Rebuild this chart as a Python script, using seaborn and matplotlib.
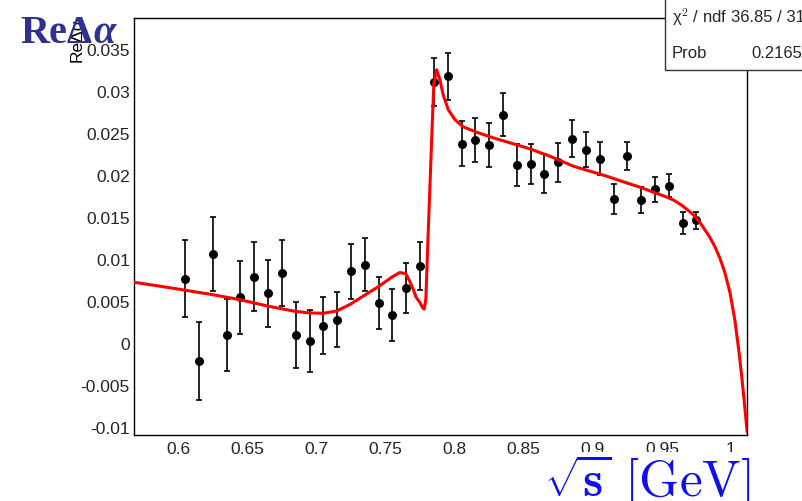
import numpy as np
import pandas as pd
import matplotlib
matplotlib.use("Agg")
import matplotlib.pyplot as plt
from matplotlib.patches import Rectangle
from matplotlib.ticker import MultipleLocator, FuncFormatter
import seaborn as sns

# ---- data -------------------------------------------------------------
sqrt_s = [0.605, 0.615, 0.625, 0.635, 0.645, 0.655, 0.665, 0.675, 0.685, 0.695,
          0.705, 0.715, 0.725, 0.735, 0.745, 0.755, 0.765, 0.775, 0.785, 0.795,
          0.805, 0.815, 0.825, 0.835, 0.845, 0.855, 0.865, 0.875, 0.885, 0.895,
          0.905, 0.915, 0.925, 0.935, 0.945, 0.955, 0.965, 0.975]
re_dalpha = [0.00768, -0.00214, 0.01065, 0.00095, 0.00543, 0.00788, 0.00594, 0.00835,
             0.00095, 0.00024, 0.00206, 0.00277, 0.00855, 0.00934, 0.00479, 0.00333,
             0.00653, 0.00918, 0.03108, 0.03175, 0.02372, 0.02419, 0.02360, 0.02720,
             0.02122, 0.02130, 0.02015, 0.02153, 0.02431, 0.02300, 0.02197, 0.01718,
             0.02225, 0.01702, 0.01829, 0.01873, 0.01425, 0.01461]
err = [0.0046, 0.0046, 0.0044, 0.0043, 0.0043, 0.0041, 0.0040, 0.0039, 0.0039, 0.0037,
       0.0034, 0.0033, 0.0033, 0.0032, 0.0031, 0.0031, 0.0030, 0.0029, 0.0028, 0.0028,
       0.0027, 0.0026, 0.0026, 0.0026, 0.0025, 0.0024, 0.0023, 0.0023, 0.0022, 0.0021,
       0.0020, 0.0018, 0.0017, 0.0015, 0.0015, 0.0014, 0.0013, 0.0010]

fit_x = [0.5679, 0.5940, 0.6043, 0.6157, 0.6246, 0.6446, 0.6647, 0.6847, 0.6948, 0.7049,
         0.7148, 0.7247, 0.7342, 0.7450, 0.7548, 0.7604, 0.7648, 0.7674, 0.7700, 0.7722,
         0.7749, 0.7767, 0.7780, 0.7792, 0.7809, 0.7834, 0.7850, 0.7870, 0.7894, 0.7917,
         0.7954, 0.8002, 0.8062, 0.8159, 0.8279, 0.8400, 0.8545, 0.8690, 0.8858, 0.8979,
         0.9100, 0.9220, 0.9341, 0.9462, 0.9522, 0.9582, 0.9645, 0.9703, 0.9739, 0.9775,
         0.9811, 0.9847, 0.9884, 0.9920, 0.9956, 0.9992, 1.0028, 1.0057, 1.0079, 1.0101,
         1.0117]
fit_y = [0.00724, 0.00658, 0.00631, 0.00600, 0.00577, 0.00516, 0.00440, 0.00377, 0.00359, 0.00354,
         0.00382, 0.00463, 0.00562, 0.00673, 0.00787, 0.00840, 0.00823, 0.00740, 0.00641, 0.00543,
         0.00483, 0.00424, 0.00404, 0.00523, 0.01315, 0.02423, 0.03096, 0.03254, 0.03135, 0.02957,
         0.02779, 0.02660, 0.02574, 0.02510, 0.02443, 0.02384, 0.02312, 0.02224, 0.02106, 0.02046,
         0.01987, 0.01920, 0.01856, 0.01781, 0.01746, 0.01704, 0.01639, 0.01562, 0.01508, 0.01437,
         0.01348, 0.01259, 0.01146, 0.01010, 0.00837, 0.00606, 0.00273, -0.00095, -0.00416, -0.00784,
         -0.01061]

x_ticks = [0.6, 0.65, 0.7, 0.75, 0.8, 0.85, 0.9, 0.95, 1.0]
y_ticks = [-0.01, -0.005, 0.0, 0.005, 0.01, 0.015, 0.02, 0.025, 0.03, 0.035]

pts = pd.DataFrame({"x": sqrt_s, "y": re_dalpha, "e": err})
fit = pd.DataFrame({"x": fit_x, "y": fit_y})

# ---- style -------------------------------------------------------------
sns.set_style("white")
plt.rcParams["font.family"] = ["Liberation Sans", "DejaVu Sans"]
plt.rcParams["axes.unicode_minus"] = False
plt.rcParams["mathtext.fontset"] = "cm"

W, H = 803, 502
fig = plt.figure(figsize=(W / 100, H / 100), dpi=100)
fig.patch.set_facecolor("white")
ax = fig.add_axes([134 / W, 1 - 436 / H, (747.3 - 134) / W, (436 - 19) / H])

# error bars + points
ax.errorbar(pts["x"], pts["y"], yerr=pts["e"], fmt="none", ecolor="black",
            elinewidth=1.2, capsize=2.5, capthick=1.2, zorder=2)
sns.scatterplot(data=pts, x="x", y="y", ax=ax, color="black", s=42,
                edgecolor="black", linewidth=0, zorder=3, legend=False)
# fit curve
sns.lineplot(data=fit, x="x", y="y", ax=ax, color="red", linewidth=2.2,
             estimator=None, sort=False, zorder=4, legend=False)

ax.set_xlim(0.568, 1.0118)
ax.set_ylim(-0.01095, 0.0387)
ax.set_xlabel("")
ax.set_ylabel("")

ax.set_xticks(x_ticks)
ax.set_yticks(y_ticks)
ax.xaxis.set_minor_locator(MultipleLocator(0.01))
ax.yaxis.set_minor_locator(MultipleLocator(0.001))
fmt = FuncFormatter(lambda v, p: ("%g" % round(v, 4)))
ax.xaxis.set_major_formatter(fmt)
ax.yaxis.set_major_formatter(fmt)
ax.tick_params(axis="x", which="major", direction="in", length=9, width=1,
               labelsize=12.5, pad=4, top=False, color="black")
ax.tick_params(axis="x", which="minor", direction="in", length=4.5, width=1, top=False)
ax.tick_params(axis="y", which="major", direction="in", length=13, width=1,
               labelsize=12.5, pad=3, right=False, color="black")
ax.tick_params(axis="y", which="minor", direction="in", length=6.5, width=1, right=False)
for sp in ax.spines.values():
    sp.set_color("black")
    sp.set_linewidth(1)

# small rotated axis title (ROOT style)
fig.text(77 / W, 1 - 18 / H, "ReΔα", rotation=90, ha="center", va="top",
         fontsize=12.5, color="black")

# big overlaid label top-left
serif = ["Liberation Serif", "DejaVu Serif"]
t1 = fig.text(20 / W, 1 - 43 / H, "ReΔ", family=serif, fontweight="bold",
              fontsize=29, color="#2e3192", ha="left", va="baseline")
fig.canvas.draw()
bb = t1.get_window_extent(renderer=fig.canvas.get_renderer())
fig.text(bb.x1 / W + 1 / W, 1 - 43 / H, "α", family=serif, fontweight="bold",
         style="italic", fontsize=29, color="#2e3192", ha="left", va="baseline")

# big x label bottom right
fig.text(750 / W, 1 - 497 / H, r"$\sqrt{\mathbf{s}}\ [\mathrm{GeV}]$", fontsize=37,
         color="#1010ee", ha="right", va="baseline",
         bbox=dict(facecolor="white", edgecolor="none", pad=0))

# stats box
box = Rectangle((665 / W, 1 - 71 / H), (W - 665 + 20) / W, 80 / H,
                transform=fig.transFigure, facecolor="white", edgecolor="#333333",
                linewidth=1, zorder=10)
fig.add_artist(box)
fig.text(672 / W, 1 - 17 / H, r"χ$^2$ / ndf", fontsize=12, ha="left", va="center", zorder=11)
fig.text(805 / W, 1 - 17 / H, "36.85 / 31", fontsize=12, ha="right", va="center", zorder=11)
fig.text(672 / W, 1 - 53 / H, "Prob", fontsize=12, ha="left", va="center", zorder=11)
fig.text(802 / W, 1 - 53 / H, "0.2165", fontsize=12, ha="right", va="center", zorder=11)

fig.savefig("out.png", dpi=100)
